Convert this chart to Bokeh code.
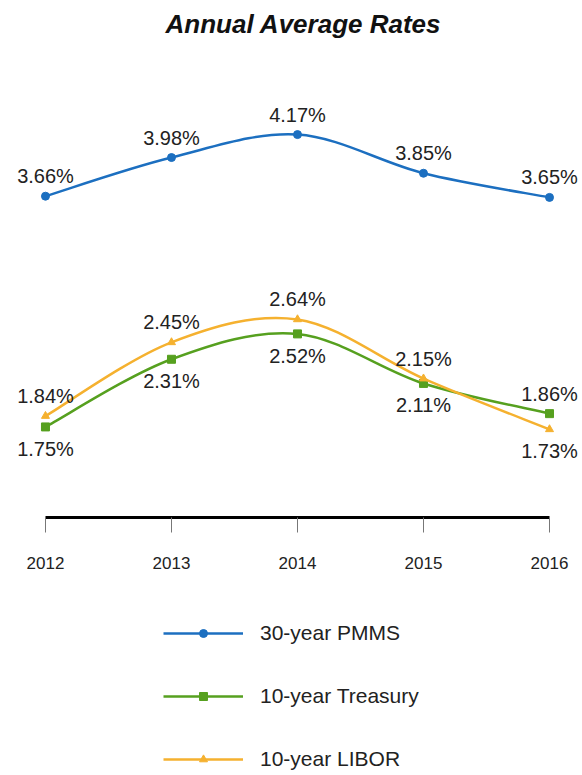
import numpy as np
from bokeh.plotting import figure
from bokeh.models import ColumnDataSource, LinearAxis, FixedTicker, Legend, LegendItem, Range1d
from bokeh.core.properties import value
from bokeh.embed import file_html
from bokeh.resources import INLINE

# ---- data ----
years = [2012, 2013, 2014, 2015, 2016]
pmms = [3.66, 3.98, 4.17, 3.85, 3.65]
treasury = [1.75, 2.31, 2.52, 2.11, 1.86]
libor = [1.84, 2.45, 2.64, 2.15, 1.73]
series_names = ["30-year PMMS", "10-year Treasury", "10-year LIBOR"]
title_text = "Annual Average Rates"

# ---- style ----
FONT = "Liberation Sans"
BLUE, GREEN, ORANGE = "#1c6fc0", "#56a01f", "#f5b12f"
TXT = "#222222"

W, H = 580, 773
p = figure(width=W, height=H, output_backend="svg", toolbar_location=None,
           x_axis_location=None, y_axis_location=None,
           x_range=Range1d(2011.643, 2016.246), y_range=Range1d(-1.119, 4.924),
           min_border=0, min_border_top=43, outline_line_color=None, title=title_text)
p.grid.visible = False
p.title.align = "left"
p.title.offset = 165
p.title.text_font = FONT
p.title.text_font_size = "26px"
p.title.text_font_style = "bold italic"
p.title.text_color = "#111111"


def smooth_source(xs, ys):
    x = np.asarray(xs, float)
    y = np.asarray(ys, float)
    n = len(x)
    xp = np.concatenate([[x[0]], x, [x[-1]]])
    yp = np.concatenate([[y[0]], y, [y[-1]]])
    return ColumnDataSource(dict(
        x0=x[:-1], y0=y[:-1], x1=x[1:], y1=y[1:],
        cx0=x[:-1] + (xp[2:n + 1] - xp[0:n - 1]) / 6,
        cy0=y[:-1] + (yp[2:n + 1] - yp[0:n - 1]) / 6,
        cx1=x[1:] - (xp[3:n + 2] - xp[1:n]) / 6,
        cy1=y[1:] - (yp[3:n + 2] - yp[1:n]) / 6,
    ))


def draw(vals, color, marker, size):
    src = smooth_source(years, vals)
    rc = p.bezier(x0="x0", y0="y0", x1="x1", y1="y1", cx0="cx0", cy0="cy0",
                  cx1="cx1", cy1="cy1", source=src, line_color=color, line_width=2.5)
    rs = p.scatter(years, vals, marker=marker, size=size, fill_color=color, line_color=color)
    return [rc, rs]


r_pmms = draw(pmms, BLUE, "circle", 8)
r_tr = draw(treasury, GREEN, "square", 8)
r_lib = draw(libor, ORANGE, "triangle", 8)

UP, DOWN = -20, 22
lib_arr, tr_arr = np.array(libor), np.array(treasury)
label_sets = [
    (pmms, [UP] * len(pmms)),
    (libor, list(np.where(lib_arr >= tr_arr, UP, DOWN))),
    (treasury, list(np.where(tr_arr > lib_arr, UP, DOWN))),
]
for vals, offs in label_sets:
    p.text(x=years, y=vals, text=[f"{v:.2f}%" for v in vals], y_offset=offs,
           text_align="center", text_baseline="middle",
           text_font=value(FONT), text_font_size="20px", text_color=TXT)

xaxis = LinearAxis(fixed_location=1.0, bounds=(2012, 2016), ticker=FixedTicker(ticks=years))
xaxis.axis_line_color = "#000000"
xaxis.axis_line_width = 3
xaxis.major_tick_line_color = "#777777"
xaxis.major_tick_line_width = 1
xaxis.major_tick_in = 0
xaxis.major_tick_out = 15
xaxis.minor_tick_line_color = None
xaxis.major_label_standoff = 24
xaxis.major_label_text_font = FONT
xaxis.major_label_text_font_size = "17px"
xaxis.major_label_text_color = TXT
p.add_layout(xaxis, "below")

legend = Legend(items=[
    LegendItem(label=series_names[0], renderers=r_pmms),
    LegendItem(label=series_names[1], renderers=r_tr),
    LegendItem(label=series_names[2], renderers=r_lib),
], location=(163, 2), orientation="vertical", padding=0, margin=0, spacing=39,
    glyph_width=80, glyph_height=20, label_height=20, label_standoff=17,
    label_text_font=FONT, label_text_font_size="21px", label_text_color=TXT,
    border_line_color=None, background_fill_alpha=0)
p.add_layout(legend)

open("out.html", "w").write(file_html(p, INLINE))
